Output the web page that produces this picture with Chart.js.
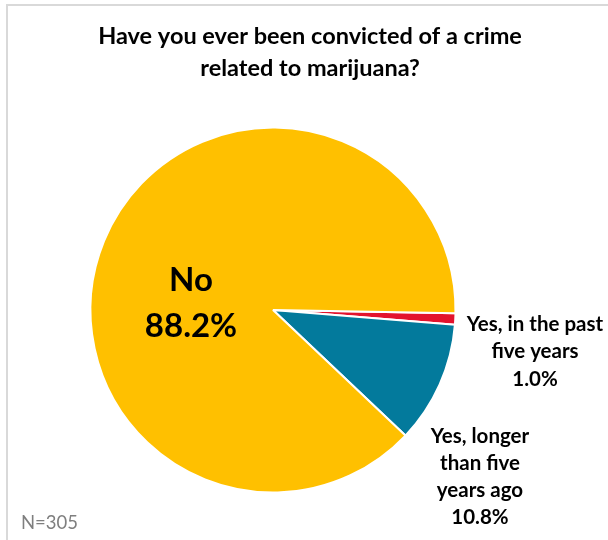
<!DOCTYPE html>
<html>
<head>
<meta charset="utf-8">
<script src="https://cdn.jsdelivr.net/npm/chart.js@4.4.1/dist/chart.umd.min.js"></script>
<style>
html,body{margin:0;padding:0;background:#fff;}
#wrap{width:608px;height:540px;position:relative;}
</style>
</head>
<body>
<div id="wrap"><canvas id="c" width="608" height="540"></canvas></div>
<script>
const categories = ["Yes, in the past five years", "Yes, longer than five years ago", "No"];
const values = [1.0, 10.8, 88.2];
const sliceColors = ["#E3132D", "#037A9C", "#FFC000"];
const labelLines = [
  ["Yes, in the past", "five years", "1.0%"],
  ["Yes, longer", "than five", "years ago", "10.8%"],
  ["No", "88.2%"]
];
const titleLines = ["Have you ever been convicted of a crime", "related to marijuana?"];
const noteText = "N=305";

const FONT = "Lato, 'Open Sans', sans-serif";

const textPlugin = {
  id: 'texts',
  beforeDraw(chart) {
    const ctx = chart.ctx;
    ctx.save();
    ctx.fillStyle = '#fff';
    ctx.fillRect(0, 0, chart.width, chart.height);
    ctx.strokeStyle = '#d9d9d9';
    ctx.lineWidth = 2;
    ctx.strokeRect(7, 5, 700, 700);
    ctx.restore();
  },
  afterDraw(chart) {
    const ctx = chart.ctx;
    ctx.save();
    ctx.textAlign = 'center';
    ctx.textBaseline = 'middle';
    ctx.fillStyle = '#000';
    ctx.font = "bold 23.5px " + FONT;
    ctx.fillText(titleLines[0], 310, 36);
    ctx.fillText(titleLines[1], 310, 68);

    const meta = chart.getDatasetMeta(0);
    const arc = meta.data[0];
    const cx = arc.x;

    ctx.font = "bold 33px " + FONT;
    ctx.fillText(labelLines[2][0], cx - 82, 280);
    ctx.fillText(labelLines[2][1], cx - 82, 326);

    ctx.font = "bold 20.5px " + FONT;
    const l0 = labelLines[0];
    l0.forEach((t, i) => ctx.fillText(t, 535, 324 + i * 27.5));
    const l1 = labelLines[1];
    l1.forEach((t, i) => ctx.fillText(t, 480, 436 + i * 27));

    ctx.textAlign = 'left';
    ctx.fillStyle = '#7f7f7f';
    ctx.font = "18.5px " + FONT;
    ctx.fillText(noteText, 21, 523);
    ctx.restore();
  }
};

new Chart(document.getElementById('c'), {
  type: 'pie',
  data: {
    labels: categories,
    datasets: [{
      data: values,
      backgroundColor: sliceColors,
      borderColor: '#ffffff',
      borderWidth: 2,
      hoverOffset: 0,
      offset: 0
    }]
  },
  options: {
    responsive: false,
    animation: false,
    rotation: 91,
    layout: { padding: { left: 89.5, right: 151.5, top: 126.5, bottom: 46.5 } },
    plugins: {
      legend: { display: false },
      title: { display: false },
      tooltip: { enabled: false }
    },
    events: []
  },
  plugins: [textPlugin]
});
</script>
</body>
</html>
